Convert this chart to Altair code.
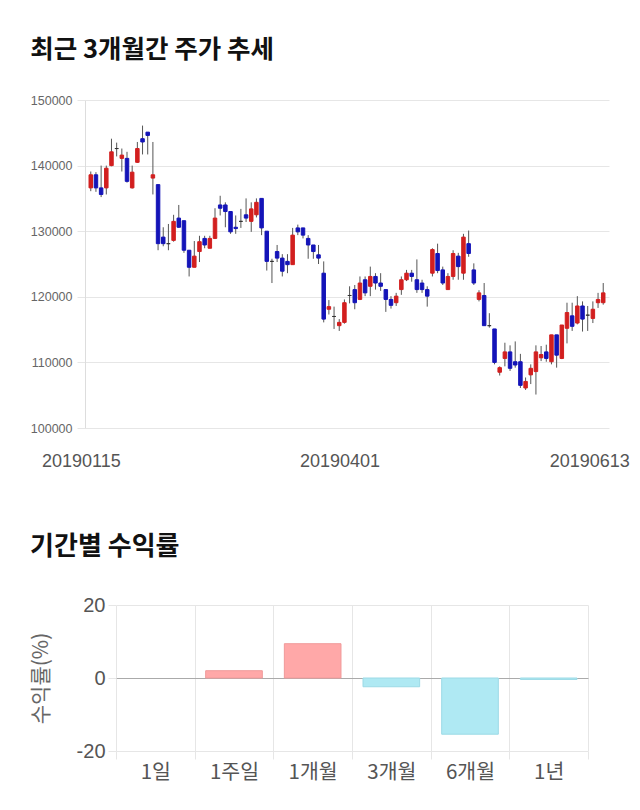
import altair as alt
import pandas as pd

# ---- candlestick data (trading-day index order) ----
opens = [136600, 138600, 136600, 136600, 140000, 142600, 141100, 141100, 136600, 140500,
         144100, 145100, 138100, 137100, 129100, 128100, 128600, 132000, 131600, 127100,
         124500, 126900, 128900, 127400, 128900, 134000, 134000, 133000, 130600, 131500,
         132500, 131500, 132500, 135000, 130000, 125400, 126900, 125900, 125400, 124900,
         130500, 130500, 128900, 127900, 126400, 123600, 118100, 117000, 115600, 116100,
         120200, 121100, 119600, 122600, 121600, 123100, 122100, 121100, 119600, 119100,
         121100, 122600, 123600, 122600, 122100, 121100, 123600, 126600, 124100, 121100,
         123100, 126200, 123600, 128100, 124100, 119600, 120200, 115600, 115100, 108500,
         110600, 111600, 110100, 110100, 106100, 108100, 108600, 110700, 111600, 110100,
         114200, 110600, 115200, 117100, 116000, 118600, 117200, 116700, 119100, 119100]
closes = [138600, 136600, 135600, 139600, 142100, 142600, 141600, 137600, 139000, 142600,
          143600, 144600, 138600, 128100, 128100, 128100, 131500, 130600, 127100, 124500,
          126200, 128400, 127900, 128900, 132000, 133500, 133000, 129900, 130400, 131500,
          132000, 133400, 134400, 130500, 125400, 125400, 125900, 123900, 124900, 129400,
          129900, 129400, 127900, 126900, 125900, 116600, 118500, 117000, 116100, 119100,
          120200, 119100, 122100, 120600, 123100, 122100, 121600, 119600, 118700, 120100,
          122600, 123600, 123100, 121100, 121100, 120100, 127200, 124000, 122100, 123100,
          126600, 124600, 129100, 126600, 122100, 120600, 115600, 115600, 110000, 109200,
          111600, 109100, 109600, 106500, 107100, 109100, 111600, 111200, 110600, 114200,
          111100, 115700, 117600, 115500, 118600, 116600, 117200, 118100, 119600, 120600]
highs = [139100, 139000, 140000, 140000, 144100, 143500, 142600, 142100, 140000, 143600,
         146100, 145100, 143600, 137100, 130600, 131100, 132500, 134000, 131600, 127100,
         128500, 129300, 129300, 129300, 133500, 135400, 134400, 133000, 132400, 133400,
         135000, 134400, 135000, 135000, 130000, 125800, 127900, 126500, 126500, 130500,
         131000, 130500, 129400, 127900, 127900, 125400, 119500, 118500, 116600, 119600,
         121600, 121800, 123100, 123100, 124600, 123600, 123600, 121100, 120100, 120600,
         123100, 124100, 124100, 125700, 122600, 121600, 127400, 128100, 124600, 123600,
         127100, 126700, 129600, 130100, 125100, 121000, 122100, 117500, 115100, 109400,
         113000, 112600, 113200, 111300, 107700, 109700, 112600, 112500, 112700, 114200,
         114200, 115700, 119100, 119100, 120100, 119300, 118600, 119300, 120600, 122100]
lows = [136100, 136000, 135200, 135600, 139900, 141400, 139100, 137400, 136500, 140400,
        141700, 141700, 135600, 127100, 127700, 127100, 128400, 130500, 126700, 123100,
        124500, 125300, 127400, 127400, 128800, 132400, 130600, 129600, 129600, 130500,
        131400, 129900, 132100, 129400, 124000, 122100, 125300, 123100, 123600, 124900,
        129400, 128900, 125800, 125800, 125000, 116100, 117300, 115100, 114800, 115900,
        119000, 118100, 119500, 120100, 120100, 121100, 120900, 117700, 118200, 118600,
        120300, 122400, 122300, 120600, 120600, 118500, 123100, 123600, 121800, 121100,
        122600, 122600, 122600, 126100, 121800, 119300, 115600, 115300, 109700, 108000,
        109400, 108700, 109200, 106100, 105800, 106700, 105100, 110200, 110100, 109700,
        109200, 110500, 112900, 114800, 115800, 114700, 114800, 116000, 118300, 118800]

tick_idx = [0, 50, 99]
tick_labels = ["20190115", "20190401", "20190613"]
price_ticks = [100000, 105000, 110000, 115000, 120000, 125000, 130000, 135000, 140000, 145000, 150000]

# ---- period returns ----
periods = ["1일", "1주일", "1개월", "3개월", "6개월", "1년"]
returns = [0.0, 2.0, 9.4, -2.4, -15.4, -0.4]

KR = "Noto Sans CJK KR"
NUM = "Liberation Sans"

df = pd.DataFrame({"i": list(range(len(opens))), "open": opens, "close": closes,
                   "high": highs, "low": lows})

label_expr = " : ".join(
    [f"datum.value == {v} ? '{t}'" for v, t in zip(tick_idx[:-1], tick_labels[:-1])]
) + f" : '{tick_labels[-1]}'"

xenc = alt.X("i:Q",
             scale=alt.Scale(domain=[-0.15, len(opens) - 1 + 0.15], nice=False, zero=False),
             axis=alt.Axis(values=tick_idx, labelExpr=label_expr, grid=False, ticks=False,
                           domain=False, labelPadding=24, labelFontSize=18, labelColor="#555555",
                           labelFont=NUM, labelFlush=False, labelOverlap=False, title=None,
                           labelOffset={"condition": {"test": f"datum.value >= {tick_idx[-1]}",
                                                      "value": -14}, "value": -10}))
yscale = alt.Scale(domain=[100000, 150000], nice=False, zero=False)

base = alt.Chart(df).transform_calculate(
    dir="datum.close > datum.open ? 'up' : (datum.close < datum.open ? 'down' : 'flat')"
)

wicks = base.mark_rule(color="#555555", strokeWidth=1).encode(
    x=xenc,
    y=alt.Y("low:Q", scale=yscale,
            axis=alt.Axis(values=price_ticks, format="d", labelFont=NUM, labelFontSize=12.5,
                          labelColor="#666666", tickSize=8, tickColor="#e6e6e6",
                          gridColor="#e6e6e6", domainColor="#dddddd", labelPadding=5,
                          title=None)),
    y2="high:Q",
)

color_scale = alt.Scale(domain=["up", "down", "flat"], range=["#D21F1F", "#1414B8", "#333333"])
bodies = base.mark_bar(size=3.5, strokeWidth=1).encode(
    x="i:Q",
    y=alt.Y("open:Q", scale=yscale),
    y2="close:Q",
    color=alt.Color("dir:N", scale=color_scale, legend=None),
    stroke=alt.Stroke("dir:N", scale=color_scale, legend=None),
)

top = alt.layer(wicks, bodies).properties(
    width=524, height=328,
    title=alt.TitleParams("최근 3개월간 주가 추세", anchor="start", frame="bounds",
                          font=KR, fontSize=25.5, fontWeight="bold", color="#111111",
                          offset=31),
)

rdf = pd.DataFrame({"period": periods, "ret": returns})
bottom = alt.Chart(rdf).mark_bar(width=alt.RelativeBandSize(0.72)).encode(
    x=alt.X("period:N", sort=periods, scale=alt.Scale(paddingInner=0, paddingOuter=0),
            axis=alt.Axis(tickBand="extent", grid=True, ticks=True, tickSize=8, domain=False,
                          labelAngle=0, title=None, gridColor="#e6e6e6", tickColor="#e6e6e6",
                          labelFont=KR, labelFontSize=20.5, labelColor="#555555",
                          labelPadding=3)),
    y=alt.Y("ret:Q", scale=alt.Scale(domain=[-20, 20], nice=False),
            axis=alt.Axis(values=[-20, 0, 20], labelExpr="datum.value + ''",
                          title="수익률(%)", titleFont=KR,
                          titleFontSize=21, titleFontWeight="normal", titleColor="#666666",
                          titlePadding=25, labelFont=NUM, labelFontSize=20,
                          labelColor="#555555", tickSize=8, tickColor="#e6e6e6",
                          gridColor={"condition": {"test": "datum.value === 0",
                                                   "value": "#aaaaaa"}, "value": "#e6e6e6"},
                          domain=False, labelPadding=3)),
    color=alt.condition("datum.ret >= 0", alt.value("#FFA8A8"), alt.value("#AFE9F3")),
    stroke=alt.condition("datum.ret >= 0", alt.value("#F09A9A"), alt.value("#9CDAE6")),
    strokeWidth=alt.condition("datum.ret == 0", alt.value(0), alt.value(1)),
).properties(
    width=472, height=146,
    title=alt.TitleParams("기간별 수익률", anchor="start", frame="bounds",
                          font=KR, fontSize=26, fontWeight="bold", color="#111111",
                          offset=35),
)

# invisible 1px spacer: lets the lower panel's plot area sit to the right of the upper one
spacer = alt.Chart(pd.DataFrame({"a": [0]})).mark_point(opacity=0).encode(
    x=alt.X("a:Q", axis=None), y=alt.Y("a:Q", axis=None)
).properties(width=1, height=146)

lower = alt.hconcat(spacer, bottom, spacing=-59)

chart = alt.vconcat(top, lower, spacing=64).properties(
    padding={"left": 30, "top": 37, "right": 8, "bottom": 8},
    background="white",
).configure_view(strokeWidth=0)

chart.save("out.html", embed_options={"renderer": "svg", "actions": False})
